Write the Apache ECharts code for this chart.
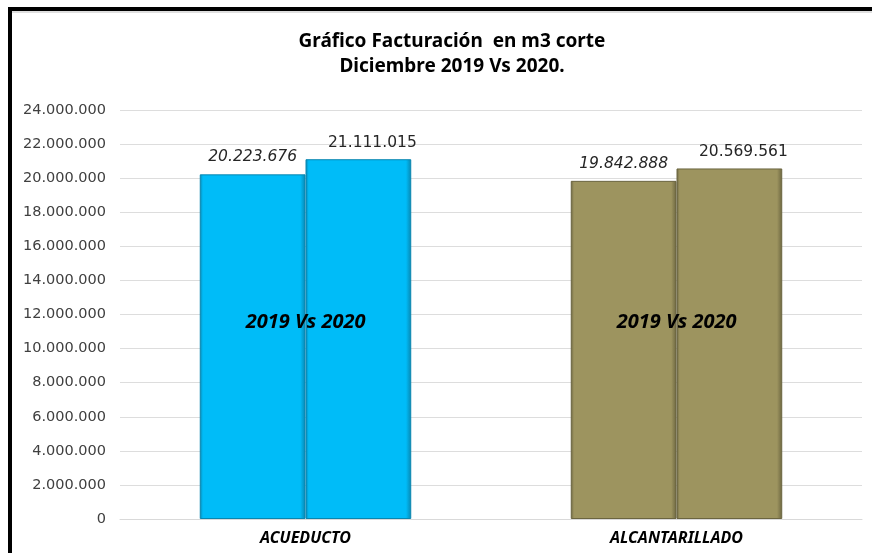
<!DOCTYPE html>
<html>
<head>
<meta charset="utf-8">
<title>Facturación m3</title>
<script src="https://cdn.jsdelivr.net/npm/echarts@6/dist/echarts.min.js"></script>
<style>
  html, body { margin: 0; padding: 0; background: #fff; }
  #chart { width: 872px; height: 553px; }
</style>
</head>
<body>
<div id="chart"></div>
<script>
// datos
var categories = ['ACUEDUCTO', 'ALCANTARILLADO'];
var serie2019 = [20223676, 19842888];
var serie2020 = [21111015, 20569561];
var groupLabel = '2019 Vs 2020';

// colores por categoría
var baseColors = ['#00BCF8', '#9D945F'];
var edgeColors = ['#0886B0', '#6B6540'];

var chart = echarts.init(document.getElementById('chart'));

function fmt(v) {
  return String(v).replace(/\B(?=(\d{3})+(?!\d))/g, '.');
}

function barItems(values) {
  return values.map(function (v, i) {
    return {
      value: v,
      itemStyle: {
        color: {
          type: 'linear', x: 0, y: 0, x2: 1, y2: 0,
          colorStops: [
            { offset: 0, color: edgeColors[i] },
            { offset: 0.03, color: baseColors[i] },
            { offset: 0.95, color: baseColors[i] },
            { offset: 1, color: edgeColors[i] }
          ]
        },
        borderColor: edgeColors[i],
        borderWidth: 1
      }
    };
  });
}

var option = {
  animation: false,
  title: {
    text: 'Gráfico Facturación  en m3 corte\nDiciembre 2019 Vs 2020.',
    left: 447,
    top: 24,
    textAlign: 'center',
    textStyle: {
      fontFamily: 'Noto Sans, sans-serif',
      fontSize: 19,
      fontWeight: 'bold',
      color: '#000',
      lineHeight: 25
    }
  },
  grid: {
    left: 120,
    right: 10,
    top: 110,
    bottom: 34,
    containLabel: false
  },
  xAxis: {
    type: 'category',
    data: categories,
    axisTick: { show: false },
    axisLine: { lineStyle: { color: '#D9D9D9' } },
    axisLabel: {
      margin: 11,
      fontFamily: 'Noto Sans, sans-serif',
      fontSize: 16,
      fontWeight: 'bold',
      fontStyle: 'italic',
      color: '#000'
    }
  },
  yAxis: {
    type: 'value',
    min: 0,
    max: 24000000,
    interval: 2000000,
    axisLine: { show: false },
    axisTick: { show: false },
    splitLine: { lineStyle: { color: '#DDDDDD' } },
    axisLabel: {
      margin: 14,
      fontFamily: 'DejaVu Sans, sans-serif',
      fontSize: 14.5,
      color: '#404040',
      formatter: function (v) { return fmt(v); }
    }
  },
  series: [
    {
      name: '2019',
      type: 'bar',
      barGap: '0%',
      barCategoryGap: '43%',
      data: barItems(serie2019),
      label: {
        show: true,
        position: 'top',
        distance: 9,
        fontFamily: 'DejaVu Sans, sans-serif',
        fontSize: 15.5,
        fontStyle: 'italic',
        color: '#262626',
        formatter: function (p) { return fmt(p.value); }
      },
      markPoint: {
        symbol: 'circle',
        symbolSize: 1,
        itemStyle: { color: 'transparent' },
        label: {
          show: true,
          position: 'inside',
          offset: [53, 0],
          formatter: groupLabel,
          fontFamily: 'Noto Sans, sans-serif',
          fontSize: 20,
          fontWeight: 'bold',
          fontStyle: 'italic',
          color: '#000'
        },
        data: categories.map(function (c) {
          return { coord: [c, 11550000] };
        })
      }
    },
    {
      name: '2020',
      type: 'bar',
      data: barItems(serie2020),
      label: {
        show: true,
        position: 'top',
        distance: 8,
        offset: [14, 0],
        fontFamily: 'DejaVu Sans, sans-serif',
        fontSize: 15.5,
        color: '#262626',
        formatter: function (p) { return fmt(p.value); }
      }
    }
  ],
  graphic: [
    {
      type: 'rect',
      silent: true,
      shape: { x: 10, y: 9, width: 900, height: 600 },
      style: { fill: null, stroke: '#000', lineWidth: 4 }
    },
    {
      type: 'line',
      silent: true,
      shape: { x1: 12, y1: 12, x2: 872, y2: 12 },
      style: { stroke: '#BFBFBF', lineWidth: 1 }
    }
  ]
};

chart.setOption(option);
</script>
</body>
</html>
